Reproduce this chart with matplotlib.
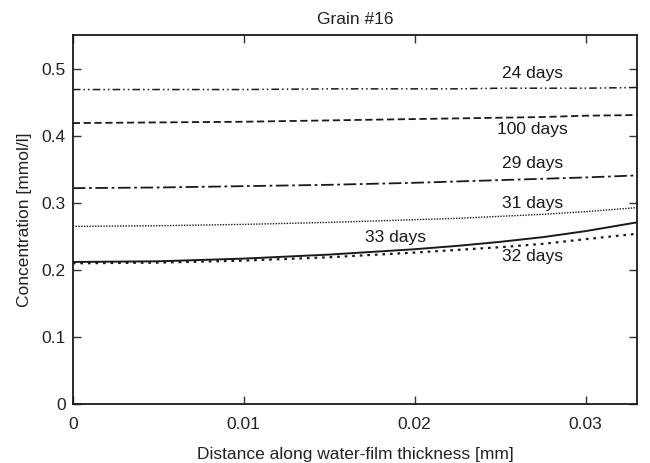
'''
Concentration profiles across the water film, grain #16.
'''

import matplotlib
matplotlib.use('Agg')
import matplotlib.pyplot as plt
import numpy as np

matplotlib.rcParams.update({'font.family': ['Liberation Sans', 'DejaVu Sans'],
                            'font.size': 12.5})

# distance along water-film thickness [mm]
dist = [0.0, 0.005, 0.01, 0.015, 0.02, 0.0225, 0.025, 0.0275, 0.03, 0.033]

# concentration [mmol/l]
c_24  = [0.469, 0.469, 0.469, 0.470, 0.470, 0.470, 0.471, 0.471, 0.471, 0.472]
c_100 = [0.419, 0.420, 0.421, 0.423, 0.425, 0.426, 0.427, 0.428, 0.430, 0.431]
c_29  = [0.322, 0.323, 0.325, 0.327, 0.330, 0.332, 0.334, 0.336, 0.338, 0.341]
c_31  = [0.265, 0.266, 0.268, 0.271, 0.275, 0.277, 0.280, 0.283, 0.287, 0.293]
c_33  = [0.212, 0.213, 0.217, 0.223, 0.231, 0.236, 0.242, 0.249, 0.258, 0.271]
c_32  = [0.210, 0.211, 0.214, 0.219, 0.226, 0.230, 0.234, 0.239, 0.246, 0.254]

labels = ['24 days', '100 days', '29 days', '31 days', '33 days', '32 days']

fig = plt.figure(figsize=(6.5, 4.63), dpi=100)
ax = fig.add_axes([0.112, 0.127, 0.868, 0.797])

k = '#1a1a1a'
ax.plot(dist, c_24, color=k, lw=1.1, linestyle=(0, (5, 2, 1, 2, 1, 2)))
ax.plot(dist, c_100, color=k, lw=1.3, linestyle=(0, (4, 2)))
ax.plot(dist, c_29, color=k, lw=1.3, linestyle=(0, (7, 2, 1.5, 2)))
ax.plot(dist, c_31, color=k, lw=1.0, linestyle=(0, (1, 1)))
ax.plot(dist, c_33, color=k, lw=1.4, linestyle='-')
ax.plot(dist, c_32, color=k, lw=1.6, linestyle=(0, (1.2, 2.2)))

# curve labels
ax.text(0.0269, 0.4925, labels[0], ha='center', va='center', color=k)
ax.text(0.0269, 0.410, labels[1], ha='center', va='center', color=k)
ax.text(0.0269, 0.359, labels[2], ha='center', va='center', color=k)
ax.text(0.0269, 0.299, labels[3], ha='center', va='center', color=k)
ax.text(0.0189, 0.249, labels[4], ha='center', va='center', color=k)
ax.text(0.0269, 0.220, labels[5], ha='center', va='center', color=k)

ax.set_xlim(0, 0.033)
ax.set_ylim(0, 0.55)
ax.set_xticks([0, 0.01, 0.02, 0.03])
ax.set_xticklabels(['0', '0.01', '0.02', '0.03'])
ax.set_yticks([0, 0.1, 0.2, 0.3, 0.4, 0.5])
ax.set_yticklabels(['0', '0.1', '0.2', '0.3', '0.4', '0.5'])
ax.tick_params(direction='in', top=True, right=True, length=6, width=1,
               labelsize=12.5, colors='#333333', labelcolor='#222222')
ax.tick_params(axis='x', pad=9)
ax.tick_params(axis='y', pad=5)
for s in ax.spines.values():
    s.set_linewidth(1.3)
    s.set_color(k)

ax.set_xlabel('Distance along water-film thickness [mm]', labelpad=11, color='#222222')
ax.set_ylabel('Concentration [mmol/l]', labelpad=7, color='#222222')
ax.set_title('Grain #16', fontsize=12.5, pad=8, color='#222222')

fig.savefig('out.png', dpi=100)
